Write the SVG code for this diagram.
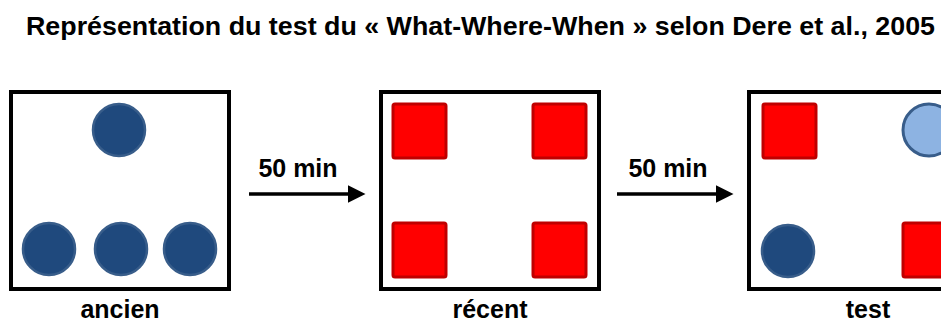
<svg xmlns="http://www.w3.org/2000/svg" width="941" height="325" viewBox="0 0 941 325">
<style>
text{font-family:"Liberation Sans",Arial,sans-serif;font-weight:bold;fill:#000}
.box{fill:#fff;stroke:#000;stroke-width:4}
.dark{fill:#1F497D;stroke:#385D8A;stroke-width:2.5}
.light{fill:#8DB3E2;stroke:#385D8A;stroke-width:3}
.sq{fill:#FF0000;stroke:#C00000;stroke-width:3}
.lbl{font-size:25px;text-anchor:middle}
</style>
<defs>
<marker id="ah" markerWidth="5" markerHeight="5" refX="0" refY="2.5" orient="auto" markerUnits="strokeWidth">
<path d="M0,0 L5,2.5 L0,5 Z" fill="#000"/>
</marker>
</defs>
<rect width="941" height="325" fill="#fff"/>
<text x="26" y="35" font-size="26" textLength="909" lengthAdjust="spacingAndGlyphs">Représentation du test du « What-Where-When » selon Dere et al., 2005</text>
<g id="ancien">
<rect class="box" x="11" y="92" width="218" height="197"/>
<circle class="dark" cx="119" cy="130" r="26"/>
<circle class="dark" cx="49" cy="249" r="26"/>
<circle class="dark" cx="121" cy="249" r="26"/>
<circle class="dark" cx="190" cy="249" r="26"/>
<text class="lbl" x="120" y="318">ancien</text>
</g>
<g id="recent">
<rect class="box" x="381" y="92" width="218" height="197"/>
<rect class="sq" x="393" y="104" width="53" height="54" rx="2"/>
<rect class="sq" x="533" y="104" width="53" height="54" rx="2"/>
<rect class="sq" x="393" y="223" width="53" height="54" rx="2"/>
<rect class="sq" x="533" y="223" width="53" height="54" rx="2"/>
<text class="lbl" x="490" y="318">récent</text>
</g>
<g id="test">
<rect class="box" x="749" y="92" width="218" height="197"/>
<rect class="sq" x="763" y="104" width="53" height="54" rx="2"/>
<circle class="light" cx="929" cy="130" r="26"/>
<circle class="dark" cx="788" cy="251" r="26"/>
<rect class="sq" x="903" y="223" width="53" height="54" rx="2"/>
<text class="lbl" x="868" y="318">test</text>
</g>
<g id="connectors">
<line x1="249" y1="194" x2="348" y2="194" stroke="#000" stroke-width="3.5" marker-end="url(#ah)"/>
<text class="lbl" x="298" y="177">50 min</text>
<line x1="617" y1="194" x2="716" y2="194" stroke="#000" stroke-width="3.5" marker-end="url(#ah)"/>
<text class="lbl" x="668" y="177">50 min</text>
</g>
</svg>
